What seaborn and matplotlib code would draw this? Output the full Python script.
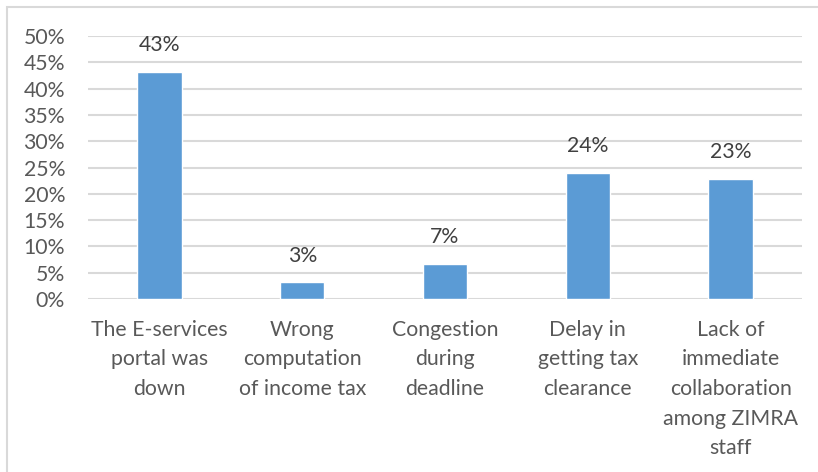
import matplotlib
matplotlib.use("Agg")
import matplotlib.pyplot as plt
from matplotlib.patches import Rectangle
from matplotlib.ticker import FuncFormatter
import pandas as pd
import seaborn as sns

categories = [
    "The E-services\nportal was\ndown",
    "Wrong\ncomputation\nof income tax",
    "Congestion\nduring\ndeadline",
    "Delay in\ngetting tax\nclearance",
    "Lack of\nimmediate\ncollaboration\namong ZIMRA\nstaff",
]
shares = [43.2, 3.2, 6.7, 24.0, 22.8]
y_ticks = [0, 5, 10, 15, 20, 25, 30, 35, 40, 45, 50]

df = pd.DataFrame({"issue": categories, "share": shares})

sns.set_theme(style="white")
plt.rcParams["font.family"] = ["Lato", "DejaVu Sans"]

fig = plt.figure(figsize=(8.18, 4.72), dpi=100)
ax = fig.add_axes([0.1076, 0.3665, 0.8728, 0.5572])

sns.barplot(data=df, x="issue", y="share", color="#5B9BD5", saturation=1,
            width=0.31, ax=ax, zorder=3)

ax.set_ylim(0, 50)
ax.set_yticks(y_ticks)
ax.yaxis.set_major_formatter(FuncFormatter(lambda v, _: f"{v:.0f}%"))
ax.set_xlim(-0.5, len(categories) - 0.5)
ax.grid(axis="y", color="#D9D9D9", linewidth=1.5, zorder=0)
ax.set_axisbelow(True)
for s in ax.spines.values():
    s.set_visible(False)
ax.set_xlabel("")
ax.set_ylabel("")
ax.tick_params(axis="y", length=0, pad=16.5, labelsize=15.3, labelcolor="#595959")
ax.tick_params(axis="x", length=0, pad=15, labelsize=15.3, labelcolor="#595959")
for lbl in ax.get_xticklabels():
    lbl.set_linespacing(1.6)
    lbl.set_horizontalalignment("center")

for cont in ax.containers:
    ax.bar_label(cont, labels=[f"{v:.0f}%" for v in shares], padding=12,
                 fontsize=15.3, color="#404040")

# light chart-area frame
fig.patches.append(Rectangle((6.5 / 818, -0.1), 1.2, 1.1 - 6.5 / 472,
                             transform=fig.transFigure, fill=False,
                             edgecolor="#D9D9D9", linewidth=1.5))

fig.savefig("out.png", dpi=100)
